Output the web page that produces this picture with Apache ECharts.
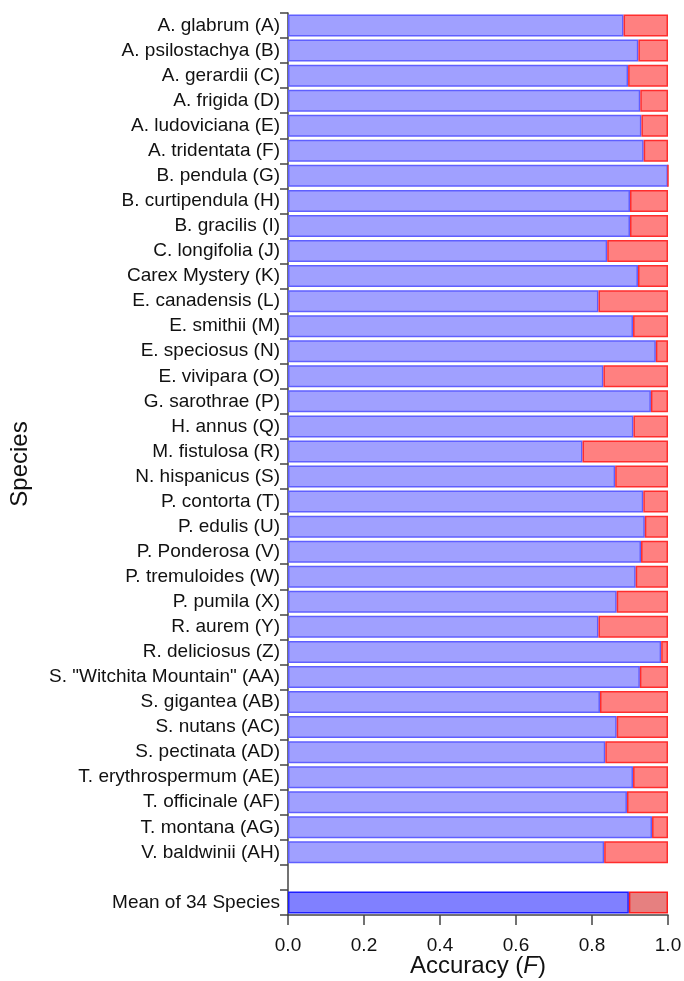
<!DOCTYPE html>
<html>
<head>
<meta charset="utf-8">
<script src="https://cdn.jsdelivr.net/npm/echarts@6/dist/echarts.min.js"></script>
<style>
  html, body { margin: 0; padding: 0; background: #fff; }
  #chart { width: 684px; height: 981px; }
</style>
</head>
<body>
<div id="chart"></div>
<script>
// Species names, top to bottom
const species = [
  'A. glabrum (A)', 'A. psilostachya (B)', 'A. gerardii (C)', 'A. frigida (D)',
  'A. ludoviciana (E)', 'A. tridentata (F)', 'B. pendula (G)', 'B. curtipendula (H)',
  'B. gracilis (I)', 'C. longifolia (J)', 'Carex Mystery (K)', 'E. canadensis (L)',
  'E. smithii (M)', 'E. speciosus (N)', 'E. vivipara (O)', 'G. sarothrae (P)',
  'H. annus (Q)', 'M. fistulosa (R)', 'N. hispanicus (S)', 'P. contorta (T)',
  'P. edulis (U)', 'P. Ponderosa (V)', 'P. tremuloides (W)', 'P. pumila (X)',
  'R. aurem (Y)', 'R. deliciosus (Z)', 'S. "Witchita Mountain" (AA)', 'S. gigantea (AB)',
  'S. nutans (AC)', 'S. pectinata (AD)', 'T. erythrospermum (AE)', 'T. officinale (AF)',
  'T. montana (AG)', 'V. baldwinii (AH)'
];

// Classification accuracy (F) per species
const accuracy = [
  0.883, 0.922, 0.895, 0.927,
  0.930, 0.936, 1.000, 0.900,
  0.900, 0.840, 0.921, 0.817,
  0.908, 0.968, 0.830, 0.955,
  0.909, 0.775, 0.861, 0.935,
  0.939, 0.929, 0.915, 0.865,
  0.817, 0.982, 0.926, 0.821,
  0.865, 0.835, 0.908, 0.892,
  0.958, 0.832
];

const meanLabel = 'Mean of 34 Species';
const meanAccuracy = 0.897;

// x-axis tick values
const xTicks = [0.0, 0.2, 0.4, 0.6, 0.8, 1.0];

// category list: species, an empty spacer row, then the mean
const categories = species.concat(['', meanLabel]);

const blueFill = 'rgba(160,160,255,1)';
const blueEdge = 'rgba(95,95,255,1)';
const redFill = 'rgba(255,128,128,1)';
const redEdge = 'rgba(255,45,45,1)';
const meanBlueFill = 'rgba(128,128,255,1)';
const meanBlueEdge = 'rgba(30,30,255,1)';
const meanRedFill = 'rgba(230,128,128,1)';
const meanRedEdge = 'rgba(255,30,30,1)';

const correctData = accuracy.map(v => v)
  .concat(['-', { value: meanAccuracy, itemStyle: { color: meanBlueFill, borderColor: meanBlueEdge } }]);
const errorData = accuracy.map(v => +(1 - v).toFixed(3))
  .concat(['-', { value: +(1 - meanAccuracy).toFixed(3), itemStyle: { color: meanRedFill, borderColor: meanRedEdge } }]);

const chart = echarts.init(document.getElementById('chart'), null, { renderer: 'canvas' });

const font = 'Liberation Sans, Arial, sans-serif';

chart.setOption({
  animation: false,
  backgroundColor: '#ffffff',
  textStyle: { fontFamily: font },
  grid: { left: 288, right: 16, top: 13, height: 902, containLabel: false, outerBoundsMode: 'none' },
  xAxis: {
    type: 'value',
    min: 0,
    max: 1,
    interval: 0.2,
    splitLine: { show: false },
    axisLine: { show: true, lineStyle: { color: '#444', width: 1.5 } },
    axisTick: { show: true, length: 10, lineStyle: { color: '#444', width: 1.5 } },
    axisLabel: {
      margin: 21,
      fontSize: 19,
      color: '#111',
      fontFamily: font,
      formatter: v => xTicks.includes(+v.toFixed(1)) ? v.toFixed(1) : ''
    },
    name: 'Accuracy ({i|F})',
    nameLocation: 'middle',
    nameGap: 51,
    nameMoveOverlap: false,
    nameTextStyle: {
      fontSize: 24,
      color: '#111',
      fontFamily: font,
      verticalAlign: 'middle',
      rich: {
        i: { fontSize: 24, fontStyle: 'italic', color: '#111', fontFamily: font }
      }
    }
  },
  yAxis: {
    type: 'category',
    inverse: true,
    data: categories,
    boundaryGap: true,
    axisLine: { show: true, lineStyle: { color: '#444', width: 1.5 } },
    axisTick: { show: true, length: 8, interval: 0, lineStyle: { color: '#444', width: 1.5 } },
    axisLabel: {
      interval: 0,
      margin: 8,
      fontSize: 19,
      color: '#111',
      fontFamily: font
    },
    name: 'Species',
    nameLocation: 'middle',
    nameRotate: 90,
    nameGap: 256,
    nameMoveOverlap: false,
    nameTextStyle: { fontSize: 24, color: '#111', fontFamily: font }
  },
  series: [
    {
      name: 'Correct',
      type: 'bar',
      stack: 'acc',
      barWidth: 22,
      data: correctData,
      itemStyle: { color: blueFill, borderColor: blueEdge, borderWidth: 1.5 }
    },
    {
      name: 'Error',
      type: 'bar',
      stack: 'acc',
      barWidth: 22,
      data: errorData,
      itemStyle: { color: redFill, borderColor: redEdge, borderWidth: 1.5 }
    }
  ]
});
</script>
</body>
</html>
